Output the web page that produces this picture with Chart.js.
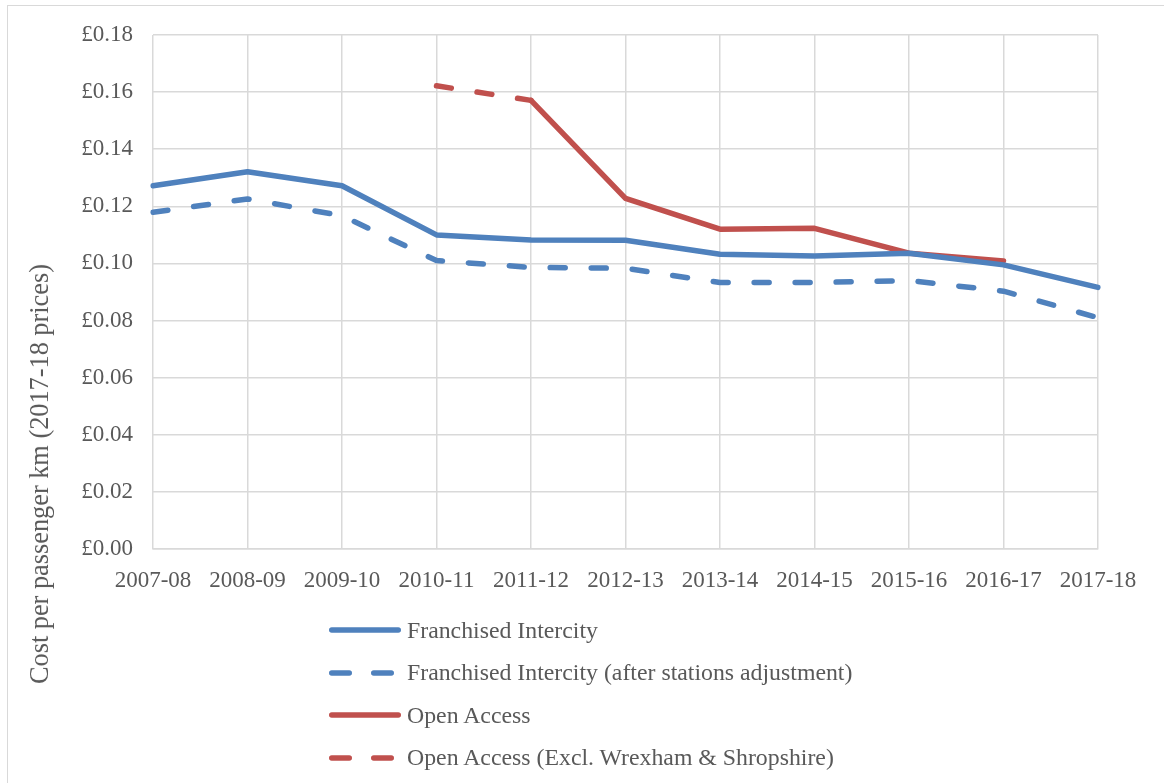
<!DOCTYPE html>
<html>
<head>
<meta charset="utf-8">
<script src="https://cdn.jsdelivr.net/npm/chart.js@4.4.0/dist/chart.umd.min.js"></script>
<style>
  html, body { margin: 0; padding: 0; background: #fff; }
  #wrap { position: relative; width: 1164px; height: 783px; overflow: hidden; }
  #frame { position: absolute; left: 7px; top: 5px; width: 1170px; height: 800px; border: 1.5px solid #d9d9d9; box-sizing: border-box; }
  #chart { position: absolute; left: 0; top: 0; }
  #ytitle {
    position: absolute; left: 40px; top: 474px;
    transform: translate(-50%, -50%) rotate(-90deg);
    white-space: nowrap; font-family: "Liberation Serif", serif; font-size: 26.3px; color: #595959;
  }
  #legend { position: absolute; left: 326px; top: 609px; font-family: "Liberation Serif", serif; font-size: 23.8px; color: #595959; }
  .item { height: 42.5px; display: flex; align-items: center; }
  .item svg { margin-right: 3px; }
</style>
</head>
<body>
<div id="wrap">
  <div id="frame"></div>
  <canvas id="chart" width="1164" height="783"></canvas>
  <div id="ytitle">Cost per passenger km (2017-18 prices)</div>
  <div id="legend"></div>
</div>
<script>
var years = ["2007-08", "2008-09", "2009-10", "2010-11", "2011-12", "2012-13", "2013-14", "2014-15", "2015-16", "2016-17", "2017-18"];
var franchised = [0.1272, 0.1321, 0.1272, 0.1100, 0.1082, 0.1081, 0.1032, 0.1026, 0.1036, 0.0995, 0.0916];
var franchisedAdj = [0.1179, 0.1226, 0.1167, 0.1010, 0.0986, 0.0983, 0.0933, 0.0933, 0.0940, 0.0903, 0.0810];
var openAccess = [null, null, null, null, 0.1571, 0.1228, 0.1120, 0.1123, 0.1036, 0.1009, null];
var openAccessExcl = [null, null, null, 0.1622, 0.1571, null, null, null, null, null, null];
var seriesNames = ["Franchised Intercity", "Franchised Intercity (after stations adjustment)", "Open Access", "Open Access (Excl. Wrexham & Shropshire)"];

var blue = "#4f81bd";
var red = "#c0504d";
var dash = [15, 26];

Chart.defaults.font.family = "'Liberation Serif', serif";
Chart.defaults.font.size = 23;
Chart.defaults.color = "#595959";

function line(label, data, color, dashed) {
    return {
        label: label,
        data: data,
        borderColor: color,
        backgroundColor: color,
        borderWidth: 5.5,
        borderDash: dashed ? dash : [],
        borderCapStyle: "round",
        borderJoinStyle: "round",
        pointRadius: 0,
        tension: 0,
        spanGaps: false,
        fill: false
    };
}

var ctx = document.getElementById("chart").getContext("2d");

var chart = new Chart(ctx, {
    type: "line",
    data: {
        labels: years,
        datasets: [
            line(seriesNames[0], franchised, blue, false),
            line(seriesNames[1], franchisedAdj, blue, true),
            line(seriesNames[2], openAccess, red, false),
            line(seriesNames[3], openAccessExcl, red, true)
        ]
    },
    options: {
        responsive: false,
        animation: false,
        layout: { padding: { left: 60, right: 66, top: 35, bottom: 0 } },
        plugins: {
            legend: { display: false },
            tooltip: { enabled: false }
        },
        scales: {
            x: {
                offset: false,
                afterFit: function (scale) { scale.height = 234; },
                grid: { color: "#d9d9d9", lineWidth: 1.5, drawTicks: false },
                border: { color: "#d9d9d9", width: 1.5 },
                ticks: { padding: 18, maxRotation: 0, autoSkip: false }
            },
            y: {
                min: 0,
                max: 0.18,
                afterFit: function (scale) { scale.width = 93; },
                grid: { color: "#d9d9d9", lineWidth: 1.5, drawTicks: false },
                border: { display: false },
                ticks: {
                    stepSize: 0.02,
                    padding: 20,
                    callback: function (v) { return "£" + v.toFixed(2); }
                }
            }
        }
    }
});

// legend built from the chart's datasets
var legend = document.getElementById("legend");
chart.data.datasets.forEach(function (ds) {
    var row = document.createElement("div");
    row.className = "item";
    var d = ds.borderDash.length ? ' stroke-dasharray="17.5 24.5"' : '';
    row.innerHTML = '<svg width="78" height="10"><line x1="5.75" y1="5" x2="72.25" y2="5" stroke="' + ds.borderColor +
        '" stroke-width="5.5" stroke-linecap="round"' + d + '/></svg><span></span>';
    row.querySelector("span").textContent = ds.label;
    legend.appendChild(row);
});
</script>
</body>
</html>
